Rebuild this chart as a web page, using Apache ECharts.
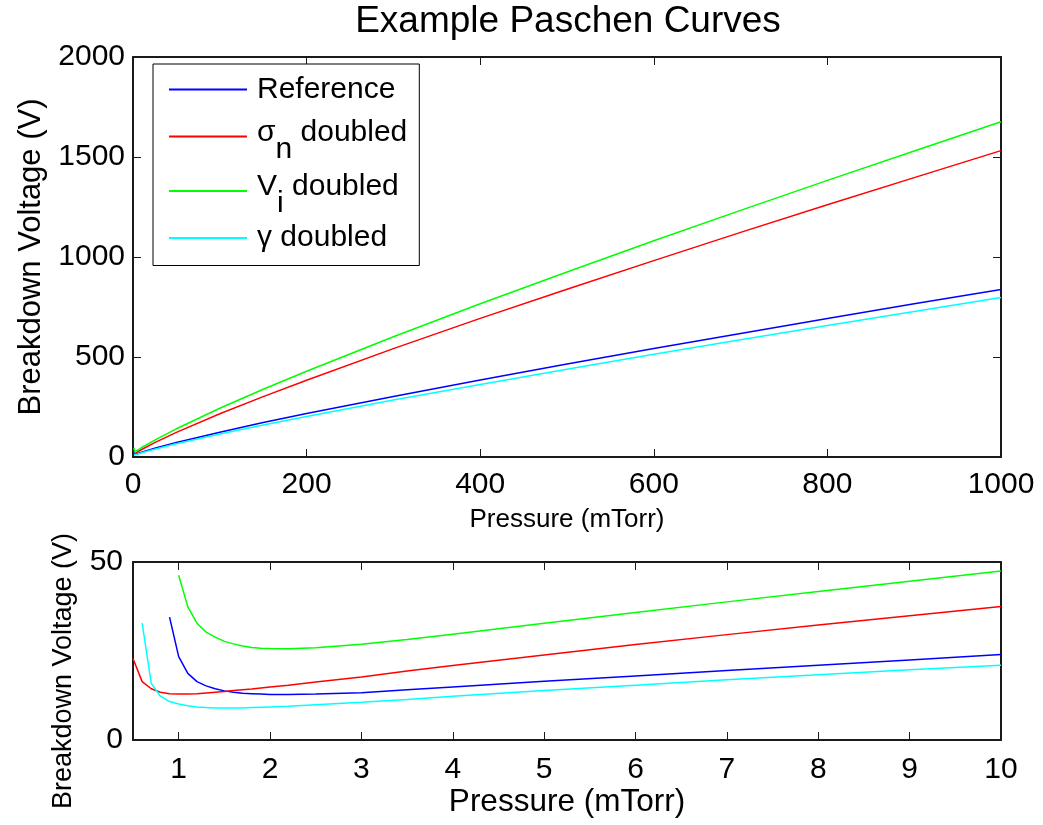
<!DOCTYPE html>
<html>
<head>
<meta charset="utf-8">
<script src="https://cdn.jsdelivr.net/npm/echarts@6/dist/echarts.min.js"></script>
<style>
html,body{margin:0;padding:0;background:#fff;}
#chart{width:1043px;height:825px;}
</style>
</head>
<body>
<div id="chart"></div>
<script>
// ---- Data ----
var seriesNames = ['Reference', 'σn doubled', 'Vi doubled', 'γ doubled'];
var seriesColors = ['#0000ff', '#ff0000', '#00ff00', '#00ffff'];

// Top panel: pressure (mTorr) 0..1000
var highPressure = [1, 2, 5, 10, 25, 50, 100, 150, 200, 300, 400, 500, 600, 700, 800, 900, 1000];
var highReference = [23.4, 12.8, 16.5, 24.0, 44, 73, 124, 172, 217, 303, 385, 465, 542, 618, 692, 766, 838];
var highSigma     = [12.9, 14.9, 23.9, 37.5, 72, 123, 216, 302, 384, 542, 693, 839, 982, 1123, 1261, 1397, 1532];
var highVi        = [46.3, 25.7, 32.8, 47.5, 84, 141, 244, 339, 429, 601, 766, 925, 1081, 1233, 1383, 1530, 1676];
var highGamma     = [10.1, 9.3, 13.9, 21.0, 39, 66, 115, 160, 203, 285, 363, 439, 514, 586, 658, 728, 798];

// Bottom panel: pressure (mTorr) 0.5..10 (null = no breakdown solution)
var lowPressure = [0.5, 0.6, 0.7, 0.8, 0.9, 1.0, 1.1, 1.2, 1.3, 1.4, 1.5, 1.6, 1.7, 1.8, 1.9, 2.0, 2.2, 2.5, 3, 3.5, 4, 5, 6, 7, 8, 9, 10];
var lowReference = [null, null, null, null, 34.5, 23.4, 18.7, 16.4, 15.2, 14.4, 13.8, 13.4, 13.1, 13.0, 12.9, 12.8, 12.8, 12.9, 13.3, 14.1, 14.9, 16.5, 18.0, 19.5, 21.0, 22.5, 24.0];
var lowSigma     = [22.9, 16.4, 14.4, 13.4, 13.0, 12.9, 12.9, 13.0, 13.2, 13.4, 13.6, 13.9, 14.1, 14.3, 14.6, 14.9, 15.4, 16.3, 17.7, 19.4, 20.9, 23.9, 26.8, 29.6, 32.3, 34.9, 37.5];
var lowVi        = [null, null, null, null, null, 46.3, 37.4, 32.8, 30.3, 28.9, 27.7, 27.0, 26.4, 26.0, 25.8, 25.7, 25.6, 25.9, 26.9, 28.2, 29.7, 32.8, 35.8, 38.8, 41.7, 44.6, 47.5];
var lowGamma     = [null, 32.8, 15.9, 12.3, 10.8, 10.1, 9.6, 9.3, 9.1, 9.0, 9.0, 9.0, 9.0, 9.1, 9.2, 9.3, 9.5, 9.9, 10.6, 11.4, 12.3, 13.9, 15.4, 16.9, 18.3, 19.7, 21.0];

var lowXTicks = [1, 2, 3, 4, 5, 6, 7, 8, 9, 10];

// ---- Chart ----
var FONT = '"Liberation Sans", Arial, Helvetica, sans-serif';
function pairs(xs, ys) { return xs.map(function (x, i) { return [x, ys[i]]; }); }
function plain(v) { return String(v); }

var highData = [highReference, highSigma, highVi, highGamma];
var lowData = [lowReference, lowSigma, lowVi, lowGamma];

var axisLineStyle = { color: '#1a1a1a', width: 2 };
var tickStyle = { show: true, inside: true, length: 8, lineStyle: { color: '#1a1a1a', width: 1 } };

function mainAxis(extra) {
  var base = {
    type: 'value',
    axisLine: { show: true, onZero: false, lineStyle: axisLineStyle },
    axisTick: tickStyle,
    splitLine: { show: false },
    nameLocation: 'middle'
  };
  for (var k in extra) base[k] = extra[k];
  return base;
}
function mirrorAxis(extra) {
  var base = {
    type: 'value',
    axisLine: { show: true, onZero: false, lineStyle: axisLineStyle },
    axisTick: tickStyle,
    splitLine: { show: false },
    axisLabel: { show: false }
  };
  for (var k in extra) base[k] = extra[k];
  return base;
}

var series = [];
seriesNames.forEach(function (name, i) {
  series.push({
    name: name, type: 'line', xAxisIndex: 0, yAxisIndex: 0,
    data: pairs(highPressure, highData[i]), symbol: 'none',
    lineStyle: { color: seriesColors[i], width: 1.5 }, itemStyle: { color: seriesColors[i] },
    animation: false
  });
});
seriesNames.forEach(function (name, i) {
  series.push({
    name: name, type: 'line', xAxisIndex: 2, yAxisIndex: 2,
    data: pairs(lowPressure, lowData[i]), symbol: 'none', connectNulls: false,
    lineStyle: { color: seriesColors[i], width: 1.5 }, itemStyle: { color: seriesColors[i] },
    animation: false
  });
});

var legendText = {
  'Reference': '{r|Reference}',
  'σn doubled': '{hi|σ}{sub|n}{tail| doubled}',
  'Vi doubled': '{hi|V}{sub|i}{tail| doubled}',
  'γ doubled': '{r|γ doubled}'
};

var option = {
  backgroundColor: '#fff',
  animation: false,
  title: {
    text: 'Example Paschen Curves',
    left: 568, top: 3, textAlign: 'center', padding: 0,
    textStyle: { color: '#000', fontSize: 37, fontWeight: 'normal', fontFamily: FONT }
  },
  legend: {
    data: seriesNames,
    orient: 'vertical',
    left: 153, top: 64,
    padding: [5, 12, 7, 16],
    itemWidth: 78, itemHeight: 2, itemGap: -1.5,
    icon: 'rect',
    backgroundColor: '#fff',
    borderColor: '#000', borderWidth: 1,
    selectedMode: false,
    formatter: function (name) { return legendText[name]; },
    textStyle: {
      color: '#000', fontFamily: FONT, fontSize: 30,
      rich: {
        r: { fontSize: 30, lineHeight: 31, padding: [5.5, 0, 5.5, 5], fontFamily: FONT, color: '#000' },
        hi: { fontSize: 30, lineHeight: 31, padding: [9, 0, 17, 5], fontFamily: FONT, color: '#000' },
        sub: { fontSize: 30, lineHeight: 31, padding: [26, 0, 0, 0], fontFamily: FONT, color: '#000' },
        tail: { fontSize: 30, lineHeight: 31, padding: [9, 0, 17, 0], fontFamily: FONT, color: '#000' }
      }
    },
    z: 10
  },
  grid: [
    { left: 133, top: 57, width: 868, height: 400 },
    { left: 133, top: 562, width: 868, height: 178 }
  ],
  xAxis: [
    mainAxis({ gridIndex: 0, position: 'bottom', min: 0, max: 1000, interval: 200,
      name: 'Pressure (mTorr)', nameGap: 50,
      nameTextStyle: { color: '#000', fontFamily: FONT, fontSize: 26 },
      axisLabel: { color: '#000', fontSize: 30, fontFamily: FONT, margin: 13, formatter: plain } }),
    mirrorAxis({ gridIndex: 0, position: 'top', min: 0, max: 1000, interval: 200 }),
    mainAxis({ gridIndex: 1, position: 'bottom', min: 0.5, max: 10,
      name: 'Pressure (mTorr)', nameGap: 45,
      nameTextStyle: { color: '#000', fontFamily: FONT, fontSize: 31.5 },
      axisTick: { show: true, inside: true, length: 8, lineStyle: { color: '#1a1a1a', width: 1 }, customValues: lowXTicks },
      axisLabel: { color: '#000', fontSize: 30, fontFamily: FONT, margin: 15, customValues: lowXTicks, formatter: plain } }),
    mirrorAxis({ gridIndex: 1, position: 'top', min: 0.5, max: 10,
      axisTick: { show: true, inside: true, length: 8, lineStyle: { color: '#1a1a1a', width: 1 }, customValues: lowXTicks } })
  ],
  yAxis: [
    mainAxis({ gridIndex: 0, position: 'left', min: 0, max: 2000, interval: 500,
      name: 'Breakdown Voltage (V)', nameGap: 85,
      nameTextStyle: { color: '#000', fontFamily: FONT, fontSize: 31 },
      axisLabel: { color: '#000', fontSize: 30, fontFamily: FONT, margin: 8, formatter: plain } }),
    mirrorAxis({ gridIndex: 0, position: 'right', min: 0, max: 2000, interval: 500 }),
    mainAxis({ gridIndex: 1, position: 'left', min: 0, max: 50, interval: 50,
      name: 'Breakdown Voltage (V)', nameGap: 56,
      nameTextStyle: { color: '#000', fontFamily: FONT, fontSize: 27, padding: [0, 40, 0, 0] },
      axisLabel: { color: '#000', fontSize: 30, fontFamily: FONT, margin: 10, formatter: plain } }),
    mirrorAxis({ gridIndex: 1, position: 'right', min: 0, max: 50, interval: 50 })
  ],
  series: series
};

var chart = echarts.init(document.getElementById('chart'), null, { renderer: 'canvas' });
chart.setOption(option);
</script>
</body>
</html>
